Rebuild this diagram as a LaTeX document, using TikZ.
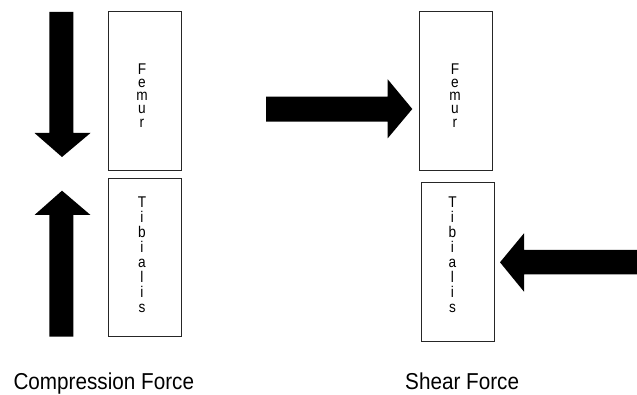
\documentclass[tikz,border=0pt]{standalone}
\usepackage{fontspec}
\setmainfont{Liberation Sans}
\newfontfamily\boxfont[FakeStretch=0.88]{Liberation Sans}
\newfontfamily\captionfont[FakeStretch=0.9]{Liberation Sans}
\begin{document}
\begin{tikzpicture}[x=1pt,y=-1pt,
  bone/.style={draw=black!85,line width=0.9pt,fill=white,inner sep=0pt},
  bonetext/.style={inner sep=0pt,anchor=north,align=center},
  force/.style={fill=black,draw=none},
  caption/.style={inner sep=0pt,anchor=base west,font=\captionfont\fontsize{23}{26}\selectfont}]
\useasboundingbox (0,0) rectangle (637,395);

% --- compression: two bones pushed together along their axis
\node[bone,minimum width=73pt,minimum height=159pt] (cfemur) at (145,91.2) {};
\node[bone,minimum width=73pt,minimum height=158.4pt] (ctibia) at (145,257.5) {};
\node[bonetext,font=\boxfont\fontsize{15.5}{13.2}\selectfont] (cfemurtxt) at (142,63.5) {F\\e\\m\\u\\r};
\node[bonetext,font=\boxfont\fontsize{15.5}{15}\selectfont] (ctibiatxt) at (142,196.5) {T\\i\\b\\i\\a\\l\\i\\s};

% downward force on the femur
\fill[force] (49.3,12) -- (73.3,12) -- (73.3,133) -- (90.5,133) -- (62,157)
  -- (34.5,133) -- (49.3,133) -- cycle;
% upward force on the tibia
\fill[force] (49.3,336.7) -- (73.3,336.7) -- (73.3,215) -- (90.5,215) -- (62,190.7)
  -- (34.5,215) -- (49.3,215) -- cycle;

% --- shear: two bones pushed sideways in opposite directions
\node[bone,minimum width=73pt,minimum height=159.3pt] (sfemur) at (456,91.3) {};
\node[bone,minimum width=73pt,minimum height=159.7pt] (stibia) at (457.5,261.9) {};
\node[bonetext,font=\boxfont\fontsize{15.5}{13.2}\selectfont] (sfemurtxt) at (455,63.5) {F\\e\\m\\u\\r};
\node[bonetext,font=\boxfont\fontsize{15.5}{15}\selectfont] (stibiatxt) at (452.5,196.5) {T\\i\\b\\i\\a\\l\\i\\s};

% rightward force on the femur
\fill[force] (266,96.7) -- (387.7,96.7) -- (387.7,79.3) -- (412.3,109)
  -- (387.7,138.3) -- (387.7,121.7) -- (266,121.7) -- cycle;
% leftward force on the tibia
\fill[force] (637,250) -- (524,250) -- (524,233.3) -- (500,262.3)
  -- (524,291.7) -- (524,274.3) -- (637,274.3) -- cycle;

% captions
\node[caption] (ccap) at (13.3,389) {Compression Force};
\node[caption] (scap) at (405,389) {Shear Force};
\end{tikzpicture}
\end{document}
